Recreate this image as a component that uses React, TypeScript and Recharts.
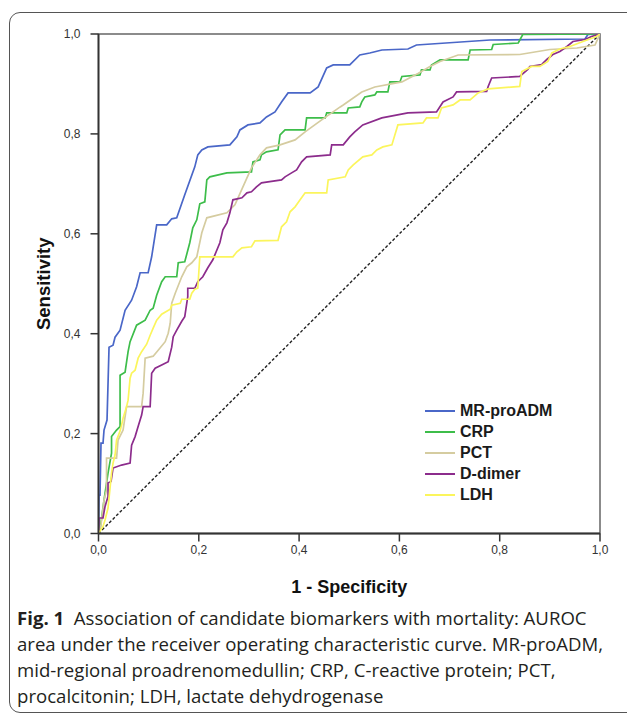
import React from 'react';
import { LineChart, Line, XAxis, YAxis, Legend, ReferenceArea } from 'recharts';

// ---- data ----
const mrFpr = [0, 0.001, 0.003, 0.005, 0.009, 0.011, 0.017, 0.021, 0.029, 0.033, 0.043, 0.053, 0.066, 0.076, 0.083, 0.099, 0.106, 0.116, 0.136, 0.146, 0.156, 0.172, 0.192, 0.198, 0.206, 0.218, 0.262, 0.276, 0.282, 0.298, 0.322, 0.335, 0.352, 0.365, 0.378, 0.422, 0.438, 0.455, 0.468, 0.501, 0.521, 0.541, 0.565, 0.617, 0.634, 0.781, 0.97, 0.976, 1];
const mrTpr = [0, 0.077, 0.077, 0.181, 0.181, 0.207, 0.227, 0.373, 0.377, 0.393, 0.407, 0.447, 0.467, 0.494, 0.522, 0.522, 0.554, 0.618, 0.618, 0.63, 0.632, 0.678, 0.734, 0.758, 0.768, 0.774, 0.778, 0.794, 0.808, 0.818, 0.822, 0.834, 0.844, 0.864, 0.882, 0.882, 0.894, 0.932, 0.938, 0.938, 0.958, 0.962, 0.968, 0.97, 0.978, 0.988, 0.99, 0.999, 1];

const crpFpr = [0, 0.003, 0.011, 0.019, 0.026, 0.026, 0.036, 0.043, 0.043, 0.053, 0.059, 0.063, 0.076, 0.093, 0.103, 0.109, 0.116, 0.126, 0.133, 0.156, 0.159, 0.172, 0.182, 0.188, 0.196, 0.202, 0.212, 0.216, 0.222, 0.256, 0.305, 0.308, 0.322, 0.325, 0.335, 0.358, 0.362, 0.372, 0.412, 0.415, 0.452, 0.455, 0.495, 0.498, 0.521, 0.525, 0.531, 0.551, 0.555, 0.577, 0.581, 0.601, 0.605, 0.641, 0.644, 0.661, 0.664, 0.681, 0.737, 0.741, 0.784, 0.787, 0.837, 0.846, 1];
const crpTpr = [0, 0.007, 0.067, 0.121, 0.161, 0.194, 0.207, 0.214, 0.317, 0.323, 0.364, 0.384, 0.417, 0.427, 0.447, 0.451, 0.477, 0.504, 0.514, 0.514, 0.542, 0.544, 0.582, 0.612, 0.628, 0.66, 0.664, 0.708, 0.714, 0.722, 0.724, 0.744, 0.748, 0.758, 0.764, 0.768, 0.798, 0.808, 0.808, 0.832, 0.832, 0.842, 0.842, 0.852, 0.854, 0.864, 0.874, 0.878, 0.884, 0.884, 0.904, 0.904, 0.915, 0.918, 0.928, 0.928, 0.938, 0.948, 0.948, 0.968, 0.969, 0.979, 0.982, 0.999, 1];

const pctFpr = [0, 0.005, 0.011, 0.016, 0.016, 0.036, 0.039, 0.049, 0.056, 0.086, 0.089, 0.093, 0.109, 0.119, 0.133, 0.139, 0.143, 0.146, 0.153, 0.166, 0.176, 0.186, 0.196, 0.206, 0.216, 0.256, 0.272, 0.288, 0.305, 0.322, 0.335, 0.362, 0.392, 0.412, 0.445, 0.482, 0.488, 0.525, 0.551, 0.605, 0.637, 0.661, 0.681, 0.717, 0.84, 0.9, 0.954, 0.99, 1];
const pctTpr = [0, 0.017, 0.067, 0.087, 0.151, 0.151, 0.187, 0.207, 0.254, 0.254, 0.281, 0.351, 0.355, 0.367, 0.384, 0.401, 0.421, 0.461, 0.481, 0.514, 0.534, 0.542, 0.554, 0.602, 0.632, 0.642, 0.658, 0.694, 0.732, 0.758, 0.772, 0.778, 0.788, 0.804, 0.828, 0.854, 0.858, 0.884, 0.894, 0.904, 0.921, 0.935, 0.945, 0.958, 0.959, 0.969, 0.972, 0.978, 1];

const ddFpr = [0, 0.001, 0.009, 0.013, 0.019, 0.019, 0.025, 0.029, 0.046, 0.063, 0.066, 0.073, 0.079, 0.086, 0.089, 0.103, 0.106, 0.113, 0.129, 0.139, 0.146, 0.149, 0.156, 0.166, 0.172, 0.178, 0.178, 0.192, 0.198, 0.208, 0.218, 0.228, 0.242, 0.248, 0.256, 0.262, 0.268, 0.286, 0.296, 0.305, 0.315, 0.325, 0.338, 0.365, 0.372, 0.385, 0.395, 0.405, 0.415, 0.462, 0.465, 0.488, 0.501, 0.511, 0.527, 0.565, 0.617, 0.674, 0.687, 0.707, 0.714, 0.774, 0.777, 0.784, 0.84, 0.856, 0.86, 0.884, 0.894, 0.906, 0.92, 0.934, 0.946, 0.97, 0.983, 1];
const ddTpr = [0, 0.031, 0.031, 0.054, 0.074, 0.101, 0.104, 0.131, 0.137, 0.141, 0.177, 0.194, 0.214, 0.237, 0.254, 0.254, 0.321, 0.331, 0.339, 0.344, 0.373, 0.394, 0.407, 0.425, 0.434, 0.474, 0.491, 0.491, 0.504, 0.514, 0.532, 0.548, 0.582, 0.608, 0.622, 0.642, 0.668, 0.672, 0.682, 0.684, 0.694, 0.702, 0.704, 0.708, 0.714, 0.722, 0.728, 0.744, 0.754, 0.758, 0.778, 0.778, 0.794, 0.804, 0.818, 0.832, 0.842, 0.844, 0.864, 0.874, 0.884, 0.885, 0.895, 0.912, 0.915, 0.929, 0.935, 0.939, 0.949, 0.959, 0.965, 0.975, 0.985, 0.989, 0.995, 1];

const ldhFpr = [0, 0.009, 0.013, 0.019, 0.023, 0.026, 0.029, 0.033, 0.036, 0.043, 0.046, 0.049, 0.056, 0.059, 0.063, 0.066, 0.073, 0.079, 0.086, 0.096, 0.103, 0.109, 0.116, 0.126, 0.136, 0.143, 0.146, 0.163, 0.166, 0.182, 0.186, 0.192, 0.198, 0.202, 0.268, 0.276, 0.286, 0.305, 0.312, 0.358, 0.365, 0.375, 0.382, 0.392, 0.402, 0.412, 0.455, 0.458, 0.492, 0.498, 0.508, 0.527, 0.545, 0.555, 0.567, 0.585, 0.597, 0.647, 0.654, 0.677, 0.684, 0.707, 0.721, 0.741, 0.757, 0.777, 0.84, 0.844, 0.864, 0.88, 0.896, 0.904, 0.92, 0.94, 0.966, 0.993, 1];
const ldhTpr = [0, 0.014, 0.027, 0.051, 0.091, 0.121, 0.141, 0.157, 0.187, 0.205, 0.217, 0.231, 0.254, 0.267, 0.311, 0.321, 0.327, 0.351, 0.364, 0.379, 0.397, 0.411, 0.427, 0.439, 0.445, 0.449, 0.457, 0.461, 0.469, 0.469, 0.481, 0.489, 0.491, 0.554, 0.554, 0.564, 0.572, 0.574, 0.586, 0.587, 0.614, 0.624, 0.644, 0.654, 0.668, 0.682, 0.682, 0.708, 0.714, 0.728, 0.738, 0.754, 0.758, 0.768, 0.774, 0.778, 0.818, 0.822, 0.832, 0.832, 0.852, 0.858, 0.868, 0.868, 0.882, 0.89, 0.895, 0.925, 0.935, 0.935, 0.945, 0.962, 0.97, 0.975, 0.985, 0.995, 1];

const refFpr = [0, 1];
const refTpr = [0, 1];

const seriesNames = ['MR-proADM', 'CRP', 'PCT', 'D-dimer', 'LDH'];
const seriesColors = ['#4a67c8', '#3dbd4a', '#d5cca0', '#8c2c8c', '#fbf55c'];
const axisTicks = [0, 0.2, 0.4, 0.6, 0.8, 1];

const toPoints = (xs: number[], ys: number[]) => xs.map((x, i) => ({ x, y: ys[i] }));

const seriesData = [
  toPoints(mrFpr, mrTpr),
  toPoints(crpFpr, crpTpr),
  toPoints(pctFpr, pctTpr),
  toPoints(ddFpr, ddTpr),
  toPoints(ldhFpr, ldhTpr),
];
const refData = toPoints(refFpr, refTpr);

const fmt = (v: number) => v.toFixed(1).replace('.', ',');

const FONT = '"Liberation Sans", Arial, sans-serif';

const renderLegend = () => (
  <div style={{ fontFamily: FONT, fontWeight: 'bold', fontSize: 16, color: '#1a1a1a' }}>
    {seriesNames.map((name, i) => (
      <div key={name} style={{ display: 'flex', alignItems: 'center', height: 21 }}>
        <svg width={30} height={4} style={{ display: 'block' }}>
          <line x1={0} y1={2} x2={30} y2={2} stroke={seriesColors[i]} strokeWidth={2} />
        </svg>
        <span style={{ marginLeft: 5, lineHeight: '21px' }}>{name}</span>
      </div>
    ))}
  </div>
);

export default function App() {
  return (
    <div style={{ position: 'fixed', left: 0, top: 0, width: 627, height: 718, overflow: 'hidden', background: '#fff' }}>
      <div
        style={{
          position: 'absolute',
          left: 9,
          top: 12,
          width: 650,
          height: 701,
          border: '1.3px solid #555',
          borderRadius: 11,
          boxSizing: 'border-box',
        }}
      />
      <div style={{ position: 'absolute', left: 0, top: 0 }}>
        <LineChart width={627} height={600} margin={{ top: 34, right: 27, left: 0, bottom: 0 }}>
          <XAxis
            type="number"
            dataKey="x"
            domain={[0, 1]}
            ticks={axisTicks}
            interval={0}
            tickFormatter={fmt}
            tickSize={8}
            tickMargin={4}
            height={66.5}
            axisLine={{ stroke: '#333', strokeWidth: 1.8 }}
            tickLine={{ stroke: '#333', strokeWidth: 1.5 }}
            tick={{ fill: '#333', fontSize: 12, fontFamily: FONT }}
            allowDataOverflow
            label={{
              value: '1 - Specificity',
              position: 'insideBottom',
              offset: 7,
              style: { fontWeight: 'bold', fontSize: 18, fill: '#111', fontFamily: FONT },
            }}
          />
          <YAxis
            type="number"
            dataKey="y"
            domain={[0, 1]}
            ticks={axisTicks}
            interval={0}
            tickFormatter={fmt}
            tickSize={8}
            tickMargin={10}
            width={98.5}
            axisLine={{ stroke: '#333', strokeWidth: 1.8 }}
            tickLine={{ stroke: '#333', strokeWidth: 1.5 }}
            tick={{ fill: '#333', fontSize: 12, fontFamily: FONT }}
            allowDataOverflow
            label={{
              value: 'Sensitivity',
              angle: -90,
              position: 'insideLeft',
              offset: 43,
              style: { textAnchor: 'middle', fontWeight: 'bold', fontSize: 18.5, fill: '#111', fontFamily: FONT },
            }}
          />
          <ReferenceArea x1={0} x2={1} y1={0} y2={1} fill="none" stroke="#666" strokeWidth={1.5} ifOverflow="visible" />
          <Line
            data={refData}
            dataKey="y"
            type="linear"
            stroke="#222"
            strokeWidth={1.4}
            strokeDasharray="3 2"
            dot={false}
            isAnimationActive={false}
            legendType="none"
          />
          {seriesNames.map((name, i) => (
            <Line
              key={name}
              name={name}
              data={seriesData[i]}
              dataKey="y"
              type="linear"
              stroke={seriesColors[i]}
              strokeWidth={1.7}
              dot={false}
              isAnimationActive={false}
            />
          ))}
          <Legend
            layout="vertical"
            align="center"
            verticalAlign="middle"
            content={renderLegend}
            wrapperStyle={{ left: 425, top: 400, width: 'auto', height: 'auto' }}
          />
        </LineChart>
      </div>
      <div
        style={{
          position: 'absolute',
          left: 17,
          top: 605,
          fontFamily: '"Open Sans", sans-serif',
          fontSize: 18.6,
          lineHeight: '26px',
          color: '#231f20',
          whiteSpace: 'nowrap',
        }}
      >
        <div>
          <b>Fig. 1</b>&nbsp;&nbsp;Association of candidate biomarkers with mortality: AUROC
        </div>
        <div>area under the receiver operating characteristic curve. MR-proADM,</div>
        <div>mid-regional proadrenomedullin; CRP, C-reactive protein; PCT,</div>
        <div>procalcitonin; LDH, lactate dehydrogenase</div>
      </div>
    </div>
  );
}
